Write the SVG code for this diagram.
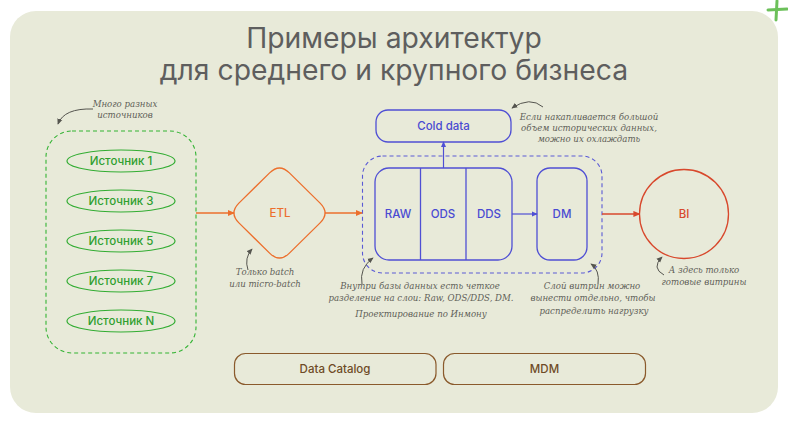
<svg xmlns="http://www.w3.org/2000/svg" width="788" height="421" viewBox="0 0 788 421">
<style>
.lbl{font-family:Inter,"Noto Sans",sans-serif;font-size:11.5px;font-weight:500;text-anchor:middle;dominant-baseline:central}
.ann{font-family:"DejaVu Serif",serif;font-style:italic;font-size:8.6px;fill:#5f5f58;text-anchor:middle}
.title{font-family:Inter,"Noto Sans",sans-serif;font-size:28.3px;fill:#5e5e5e;text-anchor:middle}
.g{fill:none;stroke:#33ad33;stroke-width:1.2}
.gt{fill:#2f9f2f}
.b{fill:none;stroke:#4f4fd4;stroke-width:1.3}
.bt{fill:#4a4ad2}
.br{fill:none;stroke:#8a5a2c;stroke-width:1.2}
.brt{fill:#6e4a26}
.cur{fill:none;stroke:#55554f;stroke-width:1}
</style>
<defs>
<marker id="ao" viewBox="0 0 8 8" refX="7" refY="4" markerWidth="7" markerHeight="7" markerUnits="userSpaceOnUse" orient="auto"><path d="M0,0.5 L8,4 L0,7.5Z" fill="#ec6f2c"/></marker>
<marker id="ar" viewBox="0 0 8 8" refX="7" refY="4" markerWidth="7" markerHeight="7" markerUnits="userSpaceOnUse" orient="auto"><path d="M0,0.5 L8,4 L0,7.5Z" fill="#d8482c"/></marker>
<marker id="ab" viewBox="0 0 8 8" refX="7" refY="4" markerWidth="6" markerHeight="6" markerUnits="userSpaceOnUse" orient="auto"><path d="M0,0.5 L8,4 L0,7.5Z" fill="#4f4fd4"/></marker>
<marker id="ag" viewBox="0 0 8 8" refX="7" refY="4" markerWidth="6" markerHeight="6" markerUnits="userSpaceOnUse" orient="auto"><path d="M0,0.5 L8,4 L0,7.5Z" fill="#55554f"/></marker>
</defs>
<rect width="788" height="421" fill="#ffffff"/>
<rect x="10" y="11" width="768" height="402" rx="26" fill="#e8ead9"/>
<g id="plus" stroke="#6cc05a" stroke-width="3" stroke-linecap="round">
<line x1="777" y1="1" x2="776" y2="20"/>
<line x1="768" y1="10" x2="787" y2="9"/>
</g>
<g id="title">
<text class="title" x="394" y="48">Примеры архитектур</text>
<text class="title" x="394" y="80">для среднего и крупного бизнеса</text>
</g>
<g id="sources">
<rect x="46" y="131" width="150" height="222" rx="26" fill="none" stroke="#33b333" stroke-width="1.1" stroke-dasharray="4 3"/>
<g id="src1"><ellipse class="g" cx="121" cy="161" rx="54" ry="11"/><text class="lbl gt" x="121" y="161">Источник 1</text></g>
<g id="src3"><ellipse class="g" cx="121" cy="201" rx="54" ry="11"/><text class="lbl gt" x="121" y="201">Источник 3</text></g>
<g id="src5"><ellipse class="g" cx="121" cy="241" rx="54" ry="11"/><text class="lbl gt" x="121" y="241">Источник 5</text></g>
<g id="src7"><ellipse class="g" cx="121" cy="281" rx="54" ry="11"/><text class="lbl gt" x="121" y="281">Источник 7</text></g>
<g id="srcN"><ellipse class="g" cx="121" cy="321" rx="54" ry="11"/><text class="lbl gt" x="121" y="321">Источник N</text></g>
</g>
<g id="etl">
<path d="M238.9,203.1 L269.6,172.9 Q279.5,163 289.4,172.9 L320.1,203.1 Q330,213 320.1,222.9 L289.4,253.1 Q279.5,263 269.6,253.1 L238.9,222.9 Q229,213 238.9,203.1Z" fill="none" stroke="#ec6f2c" stroke-width="1.3"/>
<text class="lbl" x="280" y="213" fill="#ec6f2c">ETL</text>
</g>
<g id="db">
<rect x="362.5" y="156" width="239.5" height="117" rx="20" fill="none" stroke="#5a5ad6" stroke-width="1.1" stroke-dasharray="4 3"/>
<rect class="b" x="375" y="168" width="137" height="92" rx="14"/>
<line class="b" x1="420.5" y1="168" x2="420.5" y2="260"/>
<line class="b" x1="466" y1="168" x2="466" y2="260"/>
<text class="lbl bt" x="398" y="214">RAW</text>
<text class="lbl bt" x="443" y="214">ODS</text>
<text class="lbl bt" x="489" y="214">DDS</text>
</g>
<g id="dm">
<rect class="b" x="537" y="168" width="50" height="92" rx="13"/>
<text class="lbl bt" x="562" y="214">DM</text>
</g>
<g id="cold">
<rect class="b" x="376" y="110" width="135" height="32" rx="12"/>
<text class="lbl bt" x="443.5" y="126">Cold data</text>
</g>
<g id="bi">
<circle cx="684" cy="214" r="44.5" fill="none" stroke="#d8482c" stroke-width="1.3"/>
<text class="lbl" x="684" y="214" fill="#d8482c">BI</text>
</g>
<g id="catalog">
<rect class="br" x="234.5" y="353.5" width="201.5" height="31" rx="11"/>
<text class="lbl brt" x="335" y="369">Data Catalog</text>
</g>
<g id="mdm">
<rect class="br" x="443.5" y="353.5" width="202" height="31" rx="11"/>
<text class="lbl brt" x="544.5" y="369">MDM</text>
</g>
<g id="connectors">
<line x1="196" y1="213" x2="234" y2="213" stroke="#ec6f2c" stroke-width="1.3" marker-end="url(#ao)"/>
<line x1="325" y1="213" x2="362" y2="213" stroke="#ec6f2c" stroke-width="1.3" marker-end="url(#ao)"/>
<line x1="602" y1="214" x2="639.5" y2="214" stroke="#d8482c" stroke-width="1.3" marker-end="url(#ar)"/>
<line x1="512" y1="214" x2="537" y2="214" stroke="#4f4fd4" stroke-width="1.2" marker-end="url(#ab)"/>
<line x1="443.5" y1="168" x2="443.5" y2="142" stroke="#4f4fd4" stroke-width="1.2" marker-end="url(#ab)"/>
<path class="cur" d="M93,109 Q64,108 58,124" marker-end="url(#ag)"/>
<path class="cur" d="M248,270 Q244,258 252,249" marker-end="url(#ag)"/>
<path class="cur" d="M543,107 Q530,96 512,108" marker-end="url(#ag)"/>
<path class="cur" d="M362,284 Q359,268 373,258" marker-end="url(#ag)"/>
<path class="cur" d="M598,284 Q600,270 591,264" marker-end="url(#ag)"/>
<path class="cur" d="M664,275 Q651,268 662,257" marker-end="url(#ag)"/>
</g>
<g id="annotations">
<text class="ann" x="125" y="107">Много разных</text>
<text class="ann" x="125" y="117.5">источников</text>
<text class="ann" x="265" y="275">Только batch</text>
<text class="ann" x="265" y="287">или micro-batch</text>
<text class="ann" x="589" y="119.5">Если накапливается большой</text>
<text class="ann" x="589" y="130.5">объем исторических данных,</text>
<text class="ann" x="589" y="141.5">можно их охлаждать</text>
<text class="ann" x="420" y="289">Внутри базы данных есть четкое</text>
<text class="ann" x="421" y="301">разделение на слои: Raw, ODS/DDS, DM.</text>
<text class="ann" x="421" y="317">Проектирование по Инмону</text>
<text class="ann" x="592" y="289">Слой витрин можно</text>
<text class="ann" x="593" y="301">вынести отдельно, чтобы</text>
<text class="ann" x="594" y="313.5">распределить нагрузку</text>
<text class="ann" x="704" y="273">А здесь только</text>
<text class="ann" x="704" y="284.5">готовые витрины</text>
</g>
</svg>
